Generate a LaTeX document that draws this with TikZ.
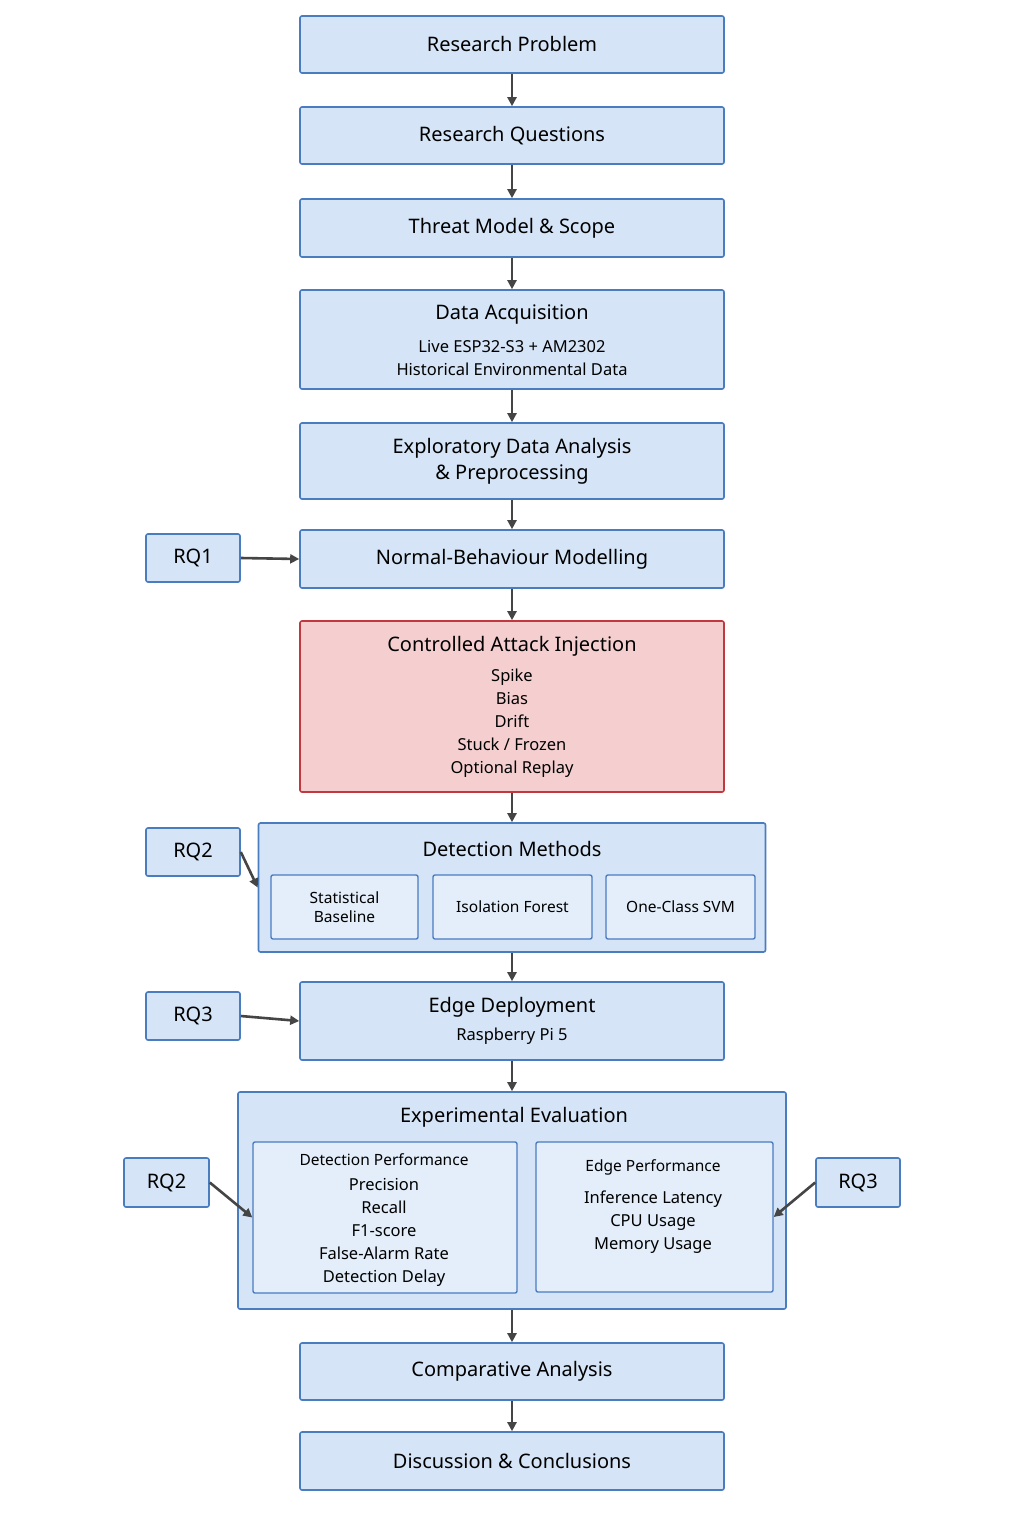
\documentclass[tikz,border=0pt]{standalone}
\usepackage{fontspec}
\setmainfont{Noto Sans}
\usetikzlibrary{arrows.meta}
\definecolor{boxfill}{HTML}{D5E5F7}
\definecolor{boxline}{HTML}{4A7CC0}
\definecolor{subfill}{HTML}{E3EEFA}
\definecolor{redfill}{HTML}{F5CFD0}
\definecolor{redline}{HTML}{C0393F}
\definecolor{arr}{HTML}{454545}
\tikzset{
  box/.style={draw=boxline,fill=boxfill,line width=1.6pt,rounded corners=2pt,inner sep=0pt},
  subbox/.style={draw=boxline,fill=subfill,line width=1.4pt,rounded corners=2pt,inner sep=0pt},
  ttl/.style={font=\fontsize{20}{24}\selectfont\bfseries},
  stl/.style={font=\fontsize{15.5}{19}\selectfont\bfseries,align=center},
  txt/.style={font=\fontsize{16.5}{23}\selectfont,align=center},
  flow/.style={-{Triangle[length=9pt,width=9pt]},arr,line width=2.6pt}
}
\newcommand{\bx}[5][box]{\node[#1,minimum width=#4pt,minimum height=#5pt] (#2) at #3 {};}
\begin{document}
\begin{tikzpicture}[x=1pt,y=-1pt]
  \useasboundingbox[fill=white] (0,0) rectangle (1024,1536);

  % main column
  \bx{prob}{(512,44.5)}{424}{57}
  \node[ttl] at (prob) {Research Problem};
  \bx{rq}{(512,135.5)}{424}{57}
  \node[ttl] at (rq) {Research Questions};
  \bx{threat}{(512,228)}{424}{58}
  \node[ttl] at (threat) {Threat Model \& Scope};
  \bx{data}{(512,339.5)}{424}{99}
  \node[ttl] at (512,315) {Data Acquisition};
  \node[txt] at (512,358) {Live ESP32-S3 + AM2302\\Historical Environmental Data};
  \bx{eda}{(512,461)}{424}{76}
  \node[ttl,align=center,font=\fontsize{20}{26}\selectfont\bfseries] at (eda) {Exploratory Data Analysis\\\& Preprocessing};
  \bx{normal}{(512,559)}{424}{58}
  \node[ttl] at (normal) {Normal-Behaviour Modelling};
  \bx[box,fill=redfill,draw=redline]{attack}{(512,706.5)}{424}{171}
  \node[ttl] at (512,646) {Controlled Attack Injection};
  \node[txt] at (512,723) {Spike\\Bias\\Drift\\Stuck / Frozen\\Optional Replay};

  % detection methods
  \bx{detect}{(512,887.5)}{507}{129}
  \node[ttl] at (512,849) {Detection Methods};
  \bx[subbox]{stat}{(344.5,907)}{147}{64}
  \node[stl] at (stat) {Statistical\\Baseline};
  \bx[subbox]{iso}{(512.5,907)}{159}{64}
  \node[stl] at (iso) {Isolation Forest};
  \bx[subbox]{svm}{(680.5,907)}{149}{64}
  \node[stl] at (svm) {One-Class SVM};

  \bx{edge}{(512,1021)}{424}{78}
  \node[ttl] at (512,1007) {Edge Deployment};
  \node[txt] at (512,1036) {Raspberry Pi 5};

  % evaluation
  \bx{eval}{(512,1200.5)}{548}{217}
  \node[ttl] at (514,1117) {Experimental Evaluation};
  \bx[subbox]{dperf}{(385,1217.5)}{264}{151}
  \node[stl] at (384,1160) {Detection Performance};
  \node[txt] at (384,1232) {Precision\\Recall\\F1-score\\False-Alarm Rate\\Detection Delay};
  \bx[subbox]{eperf}{(654.5,1217)}{237}{150}
  \node[stl] at (653,1167) {Edge Performance};
  \node[txt] at (653,1222) {Inference Latency\\CPU Usage\\Memory Usage};

  \bx{comp}{(512,1371.5)}{424}{57}
  \node[ttl] at (comp) {Comparative Analysis};
  \bx{disc}{(512,1461)}{424}{58}
  \node[ttl] at (disc) {Discussion \& Conclusions};

  % research question tags
  \bx{rqa}{(193,558)}{94}{48}
  \node[ttl] at (rqa) {RQ1};
  \bx{rqb}{(193,852)}{94}{48}
  \node[ttl] at (rqb) {RQ2};
  \bx{rqc}{(193,1016)}{94}{48}
  \node[ttl] at (rqc) {RQ3};
  \bx{rqd}{(166.5,1182.5)}{85}{49}
  \node[ttl] at (rqd) {RQ2};
  \bx{rqe}{(858,1182.5)}{84}{49}
  \node[ttl] at (rqe) {RQ3};

  % arrows
  \foreach \a/\b in {prob/rq,rq/threat,threat/data,data/eda,eda/normal,normal/attack,attack/detect,detect/edge,edge/eval,eval/comp,comp/disc}
    \draw[flow] (\a.south) -- (\b.north);
  \draw[flow] (rqa.east) -- (normal.west);
  \draw[flow] (rqb.east) -- (detect.west);
  \draw[flow] (rqc.east) -- (edge.west);
  \draw[flow] (rqd.east) -- (dperf.west);
  \draw[flow] (rqe.west) -- (eperf.east);
\end{tikzpicture}
\end{document}
